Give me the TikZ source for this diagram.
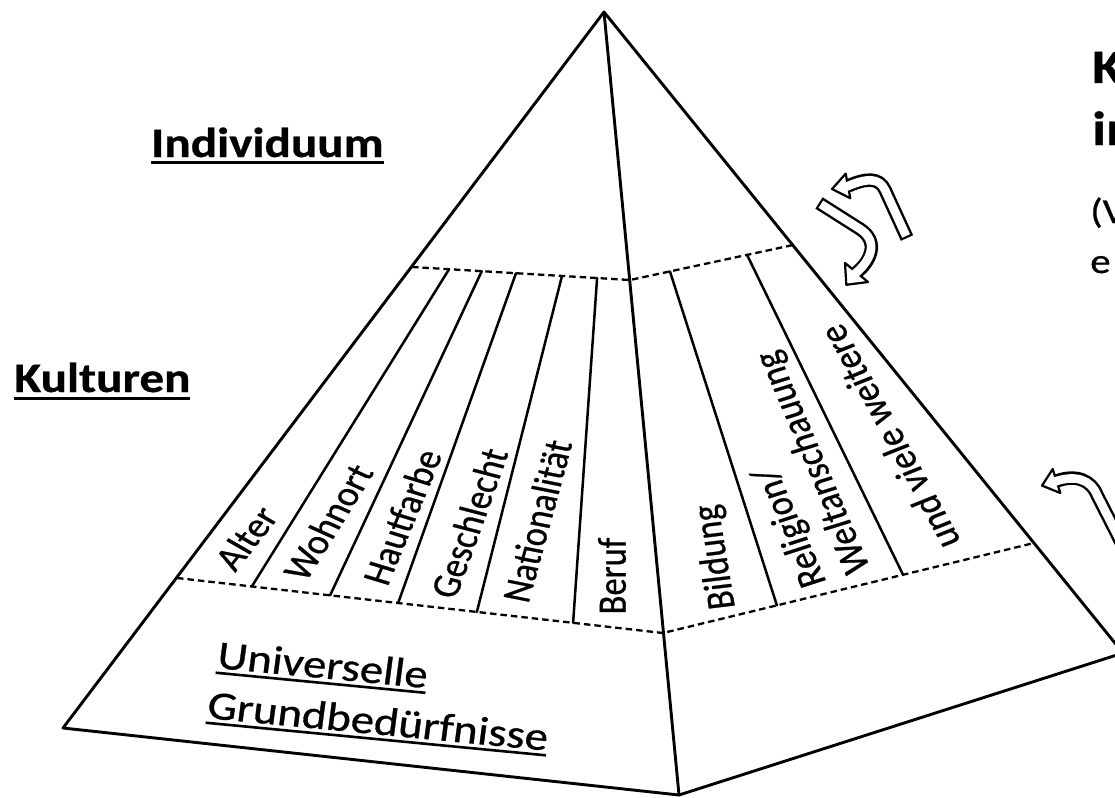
\documentclass[tikz,border=0pt]{standalone}
\usepackage{fontspec}
\setmainfont{Carlito}
\newfontfamily\scanfont{Carlito}[FakeBold=0.7]
\newfontfamily\scanbold{Carlito Bold}[FakeBold=0.6]
\usetikzlibrary{calc}
\newcommand\myul[3]{\setbox0=\hbox{#1}\rlap{\rule[#2]{\wd0}{#3}}\box0}
\begin{document}
\begin{tikzpicture}[x=1pt,y=-1pt,
  edge/.style={line width=2.9pt, line join=round, line cap=round},
  dashline/.style={line width=2.3pt, dash pattern=on 6.5pt off 4pt},
  divline/.style={line width=2.5pt, line cap=round},
  lab/.style={inner sep=0pt, font=\scanfont\fontsize{34.5}{40}\selectfont, xscale=1.17, transform shape},
  ugb/.style={inner sep=0pt, font=\scanfont\fontsize{40}{46}\selectfont, xscale=1.17, rotate=-6.4, transform shape, anchor=base west},
  titl/.style={inner sep=0pt, font=\scanbold\fontsize{42}{50}\selectfont, xscale=1.17, transform shape, anchor=base west},
  rtitl/.style={inner sep=0pt, font=\scanbold\fontsize{48}{56}\selectfont, xscale=1.17, transform shape, anchor=base west},
  rsub/.style={inner sep=0pt, font=\scanfont\fontsize{35}{42}\selectfont, xscale=1.17, transform shape, anchor=base west},
  arrout/.style={line width=13.5pt, line join=round},
  arrin/.style={line width=8.6pt, white, line join=round},
  arrhd/.style={draw=black, fill=white, line width=2.2pt, line join=round}
]
\useasboundingbox (0,0) rectangle (1115,797);
\fill[white] (0,0) rectangle (1115,797);
\clip (0,0) rectangle (1115,797);

% pyramid corners
\coordinate (A) at (604,12);
\coordinate (L) at (63,728);
\coordinate (B) at (679,795);
\coordinate (R) at (1123,653);
% band boundaries
\coordinate (UL) at (412,267);
\coordinate (UM) at (630,280);
\coordinate (UR) at (793,245);
\coordinate (LL) at (177,578);
\coordinate (LM) at (663,633);
\coordinate (LR) at (1034,543);

\draw[edge] (A) -- (L) -- (B) -- (R) -- cycle;
\draw[edge] (A) -- (B);
\draw[dashline] (UL) -- (UM) -- (UR);
\draw[dashline] (LL) -- (LM) -- (LR);

% dividers, left face
\draw[divline] ($(UL)!0.17!(UM)$) -- ($(LL)!0.154!(LM)$);
\draw[divline] ($(UL)!0.32!(UM)$) -- ($(LL)!0.315!(LM)$);
\draw[divline] ($(UL)!0.477!(UM)$) -- ($(LL)!0.455!(LM)$);
\draw[divline] ($(UL)!0.688!(UM)$) -- ($(LL)!0.617!(LM)$);
\draw[divline] ($(UL)!0.849!(UM)$) -- ($(LL)!0.815!(LM)$);
% dividers, right face
\draw[divline] ($(UM)!0.245!(UR)$) -- ($(LM)!0.307!(LR)$);
\draw[divline] ($(UM)!0.718!(UR)$) -- ($(LM)!0.647!(LR)$);

% labels in the band
\node[lab, rotate=56] (alter) at (246,538) {Alter};
\node[lab, rotate=62] (wohnort) at (328,522) {Wohnort};
\node[lab, rotate=70.4] (haut) at (402,517) {Hautfarbe};
\node[lab, rotate=72.9] (geschl) at (469,523) {Geschlecht};
\node[lab, rotate=76.8] (nat) at (537,521) {Nationalität};
\node[lab, rotate=90] (beruf) at (612,576) {Beruf};
\node[lab, rotate=98] (bildung) at (716,557) {Bildung};
\node[lab, rotate=110.7] (relig) at (791,527) {Religion/};
\node[lab, rotate=110] (welt) at (814,462) {Weltanschauung};
\node[lab, rotate=115] (undv) at (889,437) {und viele weitere};

% base labels
\node[ugb] (univ) at (216,668) {\myul{Universelle}{-6pt}{2.6pt}};
\node[ugb] (grund) at (206,718) {\myul{Grundbedürfnisse}{-6pt}{2.6pt}};

% left titles
\node[titl] (indiv) at (151,157) {\myul{Individuum}{-7pt}{3pt}};
\node[titl] (kult) at (14,392) {\myul{Kulturen}{-7.5pt}{3pt}};

% right, cut-off texts
\node[rtitl] (rk) at (1092,83) {K};
\node[rtitl] (rin) at (1092,145) {in};
\node[rsub] (rv) at (1090,223) {(V};
\node[rsub] (re) at (1090,273) {e};

% arrow 1
\coordinate (a1s) at (907,238);
\coordinate (a1m) at (885,190);
\coordinate (a1b) at (848,186);
\coordinate (a1t) at (832,189);
\coordinate (a1p) at (850.3,198.3);
\coordinate (a1q) at (845.7,173.7);
\draw[arrout] (a1s) -- (a1m) .. controls (879,177) and (866,178) .. (a1b);
\draw[arrhd] (a1t) -- (a1p) -- (a1q) -- cycle;
\draw[arrin, shorten <=2.2pt, shorten >=-3pt] (a1s) -- (a1m) .. controls (879,177) and (866,178) .. (a1b);

% arrow 2
\coordinate (a2s) at (819,203);
\coordinate (a2m) at (860,229);
\coordinate (a2b) at (856.5,272.5);
\coordinate (a2t) at (846.3,284.8);
\coordinate (a2p) at (845,263);
\coordinate (a2q) at (868,282);
\draw[arrout] (a2s) -- (a2m) .. controls (880,242) and (870,262) .. (a2b);
\draw[arrhd] (a2t) -- (a2p) -- (a2q) -- cycle;
\draw[arrin, shorten <=2.2pt, shorten >=-3pt] (a2s) -- (a2m) .. controls (880,242) and (870,262) .. (a2b);

% arrow 3
\coordinate (a3s) at (1125,550);
\coordinate (a3m) at (1097,495);
\coordinate (a3b) at (1056.5,481);
\coordinate (a3t) at (1042,485.6);
\coordinate (a3p) at (1060.3,493);
\coordinate (a3q) at (1052.7,469);
\draw[arrout] (a3s) -- (a3m) .. controls (1091,480) and (1076,474) .. (a3b);
\draw[arrhd] (a3t) -- (a3p) -- (a3q) -- cycle;
\draw[arrin, shorten <=2.2pt, shorten >=-3pt] (a3s) -- (a3m) .. controls (1091,480) and (1076,474) .. (a3b);
\end{tikzpicture}
\end{document}
